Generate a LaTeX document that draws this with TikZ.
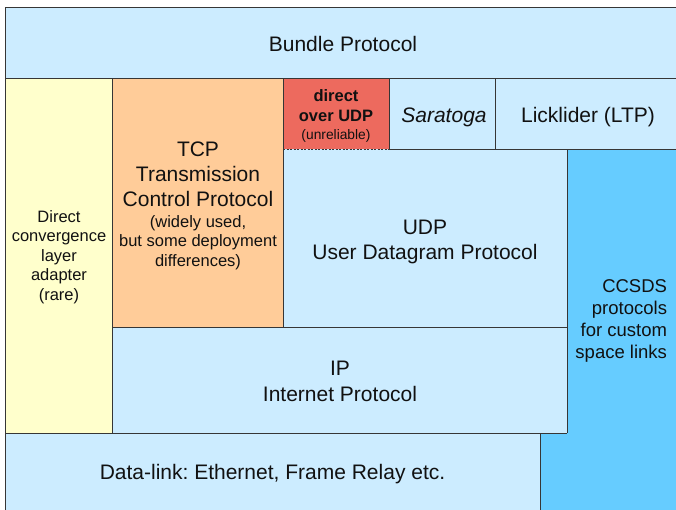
\documentclass[tikz,border=0pt]{standalone}
\usepackage{fontspec}
\setmainfont{Liberation Sans}
\frenchspacing
\definecolor{lb}{HTML}{CCECFF}
\definecolor{yel}{HTML}{FFFFCC}
\definecolor{org}{HTML}{FFCC99}
\definecolor{rd}{HTML}{ED6A5E}
\definecolor{cb}{HTML}{66CCFF}
\definecolor{lnc}{HTML}{363636}
\definecolor{txc}{HTML}{111111}
\newcommand\fsz[2]{\fontsize{#1}{#2}\selectfont}
\tikzset{
  layer/.style={inner sep=0pt, outer sep=0pt, anchor=north west, draw=none},
  ln/.style={draw=lnc, line width=0.9pt},
  dotln/.style={draw=lnc, line width=0.9pt, dash pattern=on 2pt off 1.5pt},
  txt/.style={inner sep=0pt, outer sep=0pt, text=txc},
}
\begin{document}
\begin{tikzpicture}[x=1pt,y=-1pt]
\useasboundingbox (0,0) rectangle (676,509);
\clip (0,0) rectangle (676,509);
\fill[white] (0,0) rectangle (676,509);
% boxes
\node[layer, fill=lb, minimum width=676pt, minimum height=71pt] (bundle) at (5,7) {};
\node[layer, fill=yel, minimum width=107pt, minimum height=355pt] (ycl) at (5,78) {};
\node[layer, fill=org, minimum width=171pt, minimum height=249pt] (tcp) at (112,78) {};
\node[layer, fill=rd, minimum width=106pt, minimum height=71pt] (dudp) at (283,78) {};
\node[layer, fill=lb, minimum width=106pt, minimum height=71pt] (sara) at (389,78) {};
\node[layer, fill=lb, minimum width=186pt, minimum height=71pt] (ltp) at (495,78) {};
\node[layer, fill=lb, minimum width=284pt, minimum height=178pt] (udp) at (283,149) {};
\fill[cb] (567,149) -- (681,149) -- (681,514) -- (540,514) -- (540,433) -- (567,433) -- cycle;
\node[layer, fill=lb, minimum width=455pt, minimum height=106pt] (ip) at (112,327) {};
\node[layer, fill=lb, minimum width=535pt, minimum height=81pt] (dl) at (5,433) {};
% borders
\draw[ln] (dl.south west) -- (bundle.north west) -- (bundle.north east);
\draw[ln] (bundle.south west) -- (bundle.south east);
\draw[ln] (ycl.north east) -- (ycl.south east);
\draw[ln] (tcp.north east) -- (tcp.south east);
\draw[ln] (sara.north west) -- (sara.south west);
\draw[ln] (sara.north east) -- (sara.south east);
\draw[ln] (sara.south west) -- (ltp.south east);
\draw[dotln] (dudp.south west) -- (dudp.south east);
\draw[ln] (udp.north east) -- (ip.south east);
\draw[ln] (tcp.south west) -- (udp.south east);
\draw[ln] (dl.north west) -- (ip.south east);
\draw[ln] (dl.north east) -- (dl.south east);
% texts
\node[txt, anchor=base] (bundlet) at (343,51) {\fsz{21}{25}Bundle Protocol};
\node[txt, anchor=base] (yclt) at (59,222) {\fsz{16.5}{19.5}\begin{tabular}[t]{@{}c@{}}Direct\\convergence\\layer\\adapter\\(rare)\end{tabular}};
\node[txt, anchor=base] (tcpt) at (198,156) {\fsz{21}{25}\begin{tabular}[t]{@{}c@{}}TCP\\Transmission\\Control Protocol\end{tabular}};
\node[txt, anchor=base] (tcps) at (198,227) {\fsz{16.5}{19.5}\begin{tabular}[t]{@{}c@{}}(widely used,\\but some deployment\\differences)\end{tabular}};
\node[txt, anchor=base] (dudpt) at (336,101) {\fsz{16.5}{20}\bfseries\begin{tabular}[t]{@{}c@{}}direct\\over UDP\end{tabular}};
\node[txt, anchor=base] (dudps) at (336,139) {\fsz{13.8}{16}(unreliable)};
\node[txt, anchor=base] (sarat) at (444,122) {\fsz{21}{25}\itshape Saratoga};
\node[txt, anchor=base] (ltpt) at (588,122) {\fsz{21}{25}Licklider (LTP)};
\node[txt, anchor=base] (udpt) at (425,234) {\fsz{21}{25}\begin{tabular}[t]{@{}c@{}}UDP\\User Datagram Protocol\end{tabular}};
\node[txt, anchor=base east] (ccsdst) at (667,292) {\fsz{18.5}{22.3}\begin{tabular}[t]{@{}r@{}}CCSDS\\protocols\\for custom\\space links\end{tabular}};
\node[txt, anchor=base] (ipt) at (340,375) {\fsz{21}{26}\begin{tabular}[t]{@{}c@{}}IP\\Internet Protocol\end{tabular}};
\node[txt, anchor=base] (dlt) at (272.5,479) {\fsz{21}{25}Data-link: Ethernet, Frame Relay etc.};
\end{tikzpicture}
\end{document}
